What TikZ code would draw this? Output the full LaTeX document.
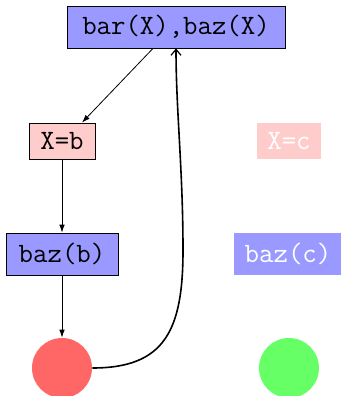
\documentclass[tikz,border=0pt]{standalone}
\usetikzlibrary{arrows.meta}
\definecolor{boxblue}{RGB}{153,153,255}
\definecolor{boxpink}{RGB}{255,204,204}
\definecolor{dotred}{RGB}{255,102,102}
\definecolor{dotgreen}{RGB}{102,255,102}
\begin{document}
\begin{tikzpicture}[x=0.5pt,y=-0.5pt,
  lbl/.style={font=\fontsize{14}{16}\selectfont\ttfamily, inner sep=0pt, line width=0.4pt},
  goal/.style={lbl, draw=black, fill=boxblue},
  bind/.style={lbl, draw=black, fill=boxpink},
  ghostgoal/.style={lbl, fill=boxblue, text=white},
  ghostbind/.style={lbl, fill=boxpink, text=white},
  dot/.style={circle, minimum size=30pt, inner sep=0pt},
  edge/.style={line width=0.4pt, -{Latex[length=4pt,width=2.8pt]}},
  back/.style={line width=0.8pt, -{Straight Barb[length=3pt,width=5pt,line width=0.6pt]}}]
\useasboundingbox (0,0) rectangle (341,396);
\node[goal, minimum width=109pt, minimum height=21pt] (top) at (176,27) {bar(X),baz(X)};
\node[bind, minimum width=33pt, minimum height=18pt] (xb) at (62,141) {X=b};
\node[ghostbind, minimum width=32pt, minimum height=18pt] (xc) at (289,141) {X=c};
\node[goal, minimum width=56pt, minimum height=21pt] (bb) at (62,254) {baz(b)};
\node[ghostgoal, minimum width=54pt, minimum height=21pt] (bc) at (288,254) {baz(c)};
\node[dot, fill=dotred] (r) at (62,368) {};
\node[dot, fill=dotgreen] (g) at (289,368) {};
\draw[edge] ([xshift=-11.5pt]top.south) -- ([xshift=10pt]xb.north);
\draw[edge] (xb.south) -- (bb.north);
\draw[edge] (bb.south) -- (r.north);
\draw[back] (r.east) .. controls (165,368) and (183,330) .. (183,250)
  .. controls (183,170) and (176,110) .. (top.south);
\end{tikzpicture}
\end{document}
